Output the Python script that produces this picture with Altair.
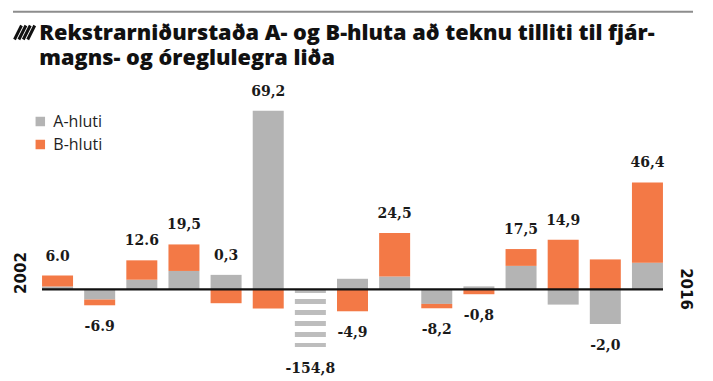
import altair as alt
import pandas as pd

# ---- data ----
years = [str(y) for y in range(2002, 2017)]
a_hluti = [1.2, -4.4, 4.2, 8.0, 6.3, 77.5, -154.8, 4.6, 5.6, -6.3, 1.3, 10.2, -6.6, -15.0, 11.6]
b_hluti = [4.8, -2.5, 8.4, 11.5, -6.0, -8.3, 0.0, -9.5, 18.9, -1.9, -2.1, 7.3, 21.5, 13.0, 34.8]
totals = [6.0, -6.9, 12.6, 19.5, 0.3, 69.2, -154.8, -4.9, 24.5, -8.2, -0.8, 17.5, 14.9, -2.0, 46.4]
labels = ["6.0", "-6.9", "12.6", "19,5", "0,3", "69,2", "-154,8", "-4,9", "24,5",
          "-8,2", "-0,8", "17,5", "14,9", "-2,0", "46,4"]
broken_year = "2008"  # bar drawn truncated with stripes
title_lines = ["Rekstrarniðurstaða A- og B-hluta að teknu tilliti til fjár-",
               "\u00a0magns- og óreglulegra liða"]

series = ["A-hluti", "B-hluti"]
GRAY = "#b4b4b4"
ORANGE = "#f37946"

rows = []
for y, a, b in zip(years, a_hluti, b_hluti):
    rows.append({"year": y, "series": "A-hluti", "ord": 0, "value": a, "base": 0.0})
    rows.append({"year": y, "series": "B-hluti", "ord": 1, "value": b, "base": 0.0})
long = pd.DataFrame(rows)
bars_df = long[~((long.year == broken_year) & (long.series == "A-hluti"))]
broken_df = long[(long.year == broken_year) & (long.series == "A-hluti")]

lab = pd.DataFrame({"year": years, "label": labels, "total": totals,
                    "a": a_hluti, "b": b_hluti})
lab["pos"] = lab.a.clip(lower=0) + lab.b.clip(lower=0)
lab["neg"] = lab.a.clip(upper=0) + lab.b.clip(upper=0)
lab["anchor"] = [p if t >= 0 else n for p, n, t in zip(lab.pos, lab.neg, lab.total)]
lab["sign"] = ["pos" if t >= 0 else "neg" for t in lab.total]

W, H = 621, 242
yscale = alt.Scale(domain=[-25, 80], clamp=True, nice=False, zero=False)
xscale = alt.Scale(domain=years, paddingInner=0.262, paddingOuter=0)
X = alt.X("year:N", scale=xscale, axis=None)

bars = alt.Chart(bars_df).mark_bar(size=31).encode(
    x=X,
    y=alt.Y("value:Q", stack="zero", scale=yscale, axis=None),
    color=alt.Color("series:N",
                    scale=alt.Scale(domain=series, range=[GRAY, ORANGE]),
                    legend=alt.Legend(orient="none", legendX=-9.7, legendY=8.5,
                                      title=None, symbolType="square", symbolSize=90,
                                      symbolStrokeWidth=0, labelFont="Open Sans",
                                      labelFontSize=16, labelColor="#1e1e1e",
                                      labelOffset=5, rowPadding=7, padding=0)),
    order=alt.Order("ord:Q"),
)

broken = alt.Chart(broken_df).mark_rule(
    color="#bdbdbd", strokeWidth=31, strokeDash=[5, 6], strokeDashOffset=1.4,
    strokeCap="butt"
).encode(
    x=X,
    y=alt.Y("base:Q", scale=yscale, axis=None),
    y2=alt.Y2("value:Q"),
)

zero_df = pd.DataFrame({"base": [0.0]})
zero = alt.Chart(zero_df).mark_rule(color="#111111", strokeWidth=2.4).encode(
    y=alt.Y("base:Q", scale=yscale, axis=None)
)

label_font = dict(font="DejaVu Serif", fontWeight="bold", fontSize=14, color="#1a1a1a")
pos_labels = alt.Chart(lab).transform_filter(alt.datum.sign == "pos").mark_text(
    baseline="middle", dy=-19, **label_font
).encode(x=X, y=alt.Y("anchor:Q", scale=yscale, axis=None), text="label:N")
neg_labels = alt.Chart(lab).transform_filter(alt.datum.sign == "neg").mark_text(
    baseline="middle", dy=22, **label_font
).encode(x=X, y=alt.Y("anchor:Q", scale=yscale, axis=None), text="label:N")

one = pd.DataFrame({"k": [0]})

top_line = alt.Chart(one).mark_rule(color="#8d8d8d", strokeWidth=2).encode(
    x=alt.value(-29), x2=alt.value(651), y=alt.value(-93.3))

hatch = [
    alt.Chart(one).mark_rule(color="#111111", strokeWidth=3, strokeCap="butt").encode(
        x=alt.value(-27.5 + 4.4 * i), x2=alt.value(-20.5 + 4.4 * i),
        y=alt.value(-65.5), y2=alt.value(-79.5))
    for i in range(4)
]

title = alt.Chart(one).mark_text(
    font="Open Sans", fontWeight=800, fontSize=21.7, color="#111111",
    align="left", baseline="alphabetic", lineHeight=25.5
).encode(x=alt.value(-2.7), y=alt.value(-65.5), text=alt.value(title_lines))

year_font = dict(font="DejaVu Sans", fontWeight="bold", fontSize=15, color="#111111",
                 align="center", baseline="middle")
y_first = alt.Chart(one).mark_text(angle=270, **year_font).encode(
    x=alt.value(-21.2), y=alt.value(168), text=alt.value(years[0]))
y_last = alt.Chart(one).mark_text(angle=90, **year_font).encode(
    x=alt.value(644), y=alt.value(184), text=alt.value(years[-1]))

chart = alt.layer(
    top_line, *hatch, title, bars, broken, zero, pos_labels, neg_labels,
    y_first, y_last
).properties(
    width=W, height=H,
    autosize=alt.AutoSizeParams(type="none"),
    padding={"left": 34, "top": 97, "right": 40, "bottom": 29},
    background="white",
).configure_view(stroke=None)

chart.save("out.html", embed_options={"renderer": "svg", "actions": False})
